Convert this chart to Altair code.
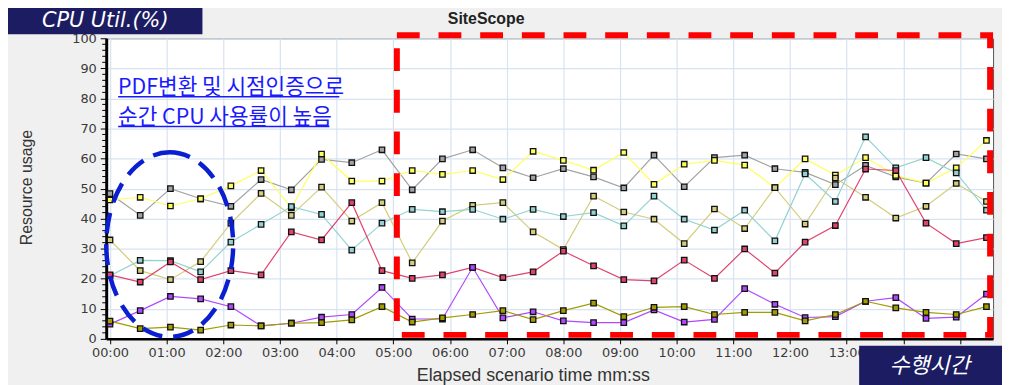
import altair as alt
import pandas as pd

# ---- data (one sample every 32 s) ----
interval_s = 32
series_names = ["Gray", "Yellow", "Khaki", "Cyan", "Crimson", "Purple", "Olive"]
series_colors = ["#a3a3a3", "#ffff5a", "#d3cd7c", "#94d2d2", "#e0446c", "#b048ff", "#a39c00"]

gray = [48.3, 41.1, 50.0, 46.6, 44.1, 53.0, 49.6, 59.7, 58.6, 62.9, 49.6, 59.9, 62.9, 56.9, 53.6,
        56.6, 53.9, 50.2, 61.1, 50.6, 60.3, 61.1, 56.6, 55.4, 51.3, 57.7, 53.9, 51.8, 61.5, 59.9]
yellow = [46.2, 47.1, 44.2, 46.6, 50.9, 56.0, 43.6, 61.5, 52.5, 52.5, 56.0, 54.7, 56.0, 53.0, 62.4,
          59.4, 56.1, 62.0, 51.4, 58.1, 59.4, 57.8, 50.3, 59.9, 54.5, 60.3, 54.4, 51.8, 56.9, 66.0]
khaki = [32.9, 22.7, 19.7, 25.7, 38.5, 48.4, 41.1, 50.5, 39.2, 45.3, 25.3, 39.2, 44.4, 45.3, 35.6,
         29.7, 47.5, 42.2, 39.8, 31.7, 43.2, 36.7, 50.3, 38.2, 53.5, 47.1, 40.2, 44.1, 51.7, 45.7]
cyan = [21.0, 26.1, 26.0, 22.3, 32.2, 38.1, 44.0, 41.4, 29.5, 38.5, 43.1, 42.3, 43.1, 39.8, 43.1,
        40.7, 42.0, 37.6, 47.5, 39.8, 36.2, 42.8, 32.6, 54.9, 45.7, 67.2, 56.9, 60.3, 55.2, 42.8]
crimson = [21.3, 18.9, 25.6, 19.7, 22.7, 21.3, 35.6, 32.9, 45.3, 22.7, 20.1, 21.3, 23.8, 20.4, 22.3,
           29.2, 24.3, 19.7, 19.3, 26.2, 20.1, 29.9, 21.9, 32.2, 37.7, 56.5, 56.0, 38.5, 31.7, 33.7]
purple = [4.9, 9.4, 14.1, 13.3, 10.7, 4.3, 5.2, 7.2, 8.1, 17.1, 6.6, 6.6, 23.8, 7.0, 9.0,
          6.0, 5.4, 5.4, 9.6, 5.6, 6.5, 16.7, 11.5, 7.1, 7.4, 12.5, 13.7, 6.8, 7.2, 14.9]
olive = [5.9, 3.4, 3.9, 2.9, 4.6, 4.3, 5.2, 5.4, 6.3, 10.7, 5.6, 7.0, 8.1, 9.4, 6.4,
         9.4, 11.9, 7.4, 10.5, 10.7, 8.1, 8.8, 8.8, 6.0, 8.1, 12.5, 10.3, 8.8, 8.1, 10.7]

x_tick_values = list(range(0, 901, 60))
y_tick_values = list(range(0, 101, 10))
y_minor_values = [v for v in range(0, 101, 2) if v % 10 != 0]

note_line1 = "PDF변환 및 시점인증으로"
note_line2 = "순간 CPU 사용률이 높음"

rows = []
for name, vals in zip(series_names, [gray, yellow, khaki, cyan, crimson, purple, olive]):
    for i, v in enumerate(vals):
        rows.append({"series": name, "t": i * interval_s, "value": v})
df = pd.DataFrame(rows)

W, H = 894, 303
x_scale = alt.Scale(domain=[-4, 935], nice=False, zero=False)
y_scale = alt.Scale(domain=[0, 100], nice=False)
color = alt.Color("series:N", scale=alt.Scale(domain=series_names, range=series_colors), legend=None)

# labels for 14:00 and 15:00 sit under the "수행시간" box in the reference, so they stay blank
label_expr = ("datum.value > 800 ? '' : pad(floor(datum.value / 60), 2, '0', 'left') + ':' + "
              "pad(datum.value % 60, 2, '0', 'left')")

x_axis = alt.Axis(
    values=x_tick_values, labelExpr=label_expr, title="Elapsed scenario time mm:ss",
    grid=True, gridColor="#d8e3f1", gridWidth=1.2,
    domainColor="#000", domainWidth=2.5, tickColor="#000", tickSize=5, tickWidth=1,
    labelFont="DejaVu Sans", labelFontSize=13, labelColor="#3a3a3a", labelPadding=3,
    labelFlush=False, labelOverlap=False,
    titleFont="Liberation Sans", titleFontSize=18, titleFontWeight="normal", titleColor="#333",
    titleBaseline="alphabetic", titleAlign="center", titleX=430, titleY=42)
y_axis = alt.Axis(
    values=y_tick_values, tickCount=11, title="Resource usage",
    grid=True, gridColor="#d8e3f1", gridWidth=1.2,
    domainColor="#000", domainWidth=3, tickColor="#000", tickSize=6, tickWidth=1,
    labelFont="DejaVu Sans", labelFontSize=13, labelColor="#3a3a3a", labelPadding=4,
    labelFlush=False, labelOverlap=False, labelBound=False,
    titleFont="Liberation Sans", titleFontSize=16, titleFontWeight="normal", titleColor="#333",
    titleAngle=270, titleX=-80, titleY=150, titleAlign="center", titleBaseline="middle")

base = alt.Chart(df)
lines = base.mark_line(strokeWidth=1.2).encode(
    x=alt.X("t:Q", scale=x_scale, axis=x_axis),
    y=alt.Y("value:Q", scale=y_scale, axis=y_axis),
    color=color, detail="series:N")
points = base.mark_point(shape="square", filled=True, size=30, stroke="#111", strokeWidth=1.3,
                         opacity=1).encode(
    x=alt.X("t:Q", scale=x_scale, axis=x_axis),
    y=alt.Y("value:Q", scale=y_scale, axis=y_axis),
    color=color)

minor = alt.Chart(pd.DataFrame({"value": y_minor_values})).mark_rule(color="#000", strokeWidth=1).encode(
    y=alt.Y("value:Q", scale=y_scale, axis=y_axis), x=alt.value(-4), x2=alt.value(0))

one = pd.DataFrame({"k": [0]})


def text_layer(txt, x, y, **kw):
    return alt.Chart(pd.DataFrame({"txt": [txt]})).mark_text(**kw).encode(
        text="txt:N", x=alt.value(x), y=alt.value(y))


def rule_layer(x, x2, y, **kw):
    return alt.Chart(one).mark_rule(**kw).encode(
        x=alt.value(x), x2=alt.value(x2), y=alt.value(y))


title_txt = text_layer("SiteScope", 383, -14, font="Liberation Sans", fontSize=16,
                       fontWeight="bold", color="#222", align="center", baseline="alphabetic")

red_rect = alt.Chart(one).mark_rect(filled=False, stroke="#ff0000", strokeWidth=6,
                                    strokeDash=[23, 19]).encode(
    x=alt.value(293), x2=alt.value(891), y=alt.value(-3), y2=alt.value(299))

ellipse_path = ("M 0 -1 C 0.38 -1 0.688 -0.5523 0.688 0 C 0.688 0.5523 0.38 1 0 1 "
                "C -0.38 1 -0.688 0.5523 -0.688 0 C -0.688 -0.5523 -0.38 -1 0 -1 Z")
ellipse = alt.Chart(one).mark_point(shape=ellipse_path, size=186 * 186, filled=False,
                                    stroke="#0a1ed2", strokeWidth=4.5, strokeDash=[21, 11],
                                    opacity=1).encode(x=alt.value(64), y=alt.value(208))

note_style = dict(font="Noto Sans CJK KR", fontSize=21.5, color="#1a1aff", align="left",
                  baseline="alphabetic")
note1 = text_layer(note_line1, 12, 56, **note_style)
note2 = text_layer(note_line2, 12, 86, **note_style)
ul1 = rule_layer(12, 235, 59, color="#1a1aff", strokeWidth=1.5)
ul2 = rule_layer(12, 225, 89, color="#1a1aff", strokeWidth=1.5)

box_cpu = alt.Chart(one).mark_rect(color="#1c1c62").encode(
    x=alt.value(-102), x2=alt.value(97), y=alt.value(-35), y2=alt.value(-4))
txt_cpu = text_layer("CPU Util.(%)", -1, -11, font="DejaVu Sans", fontSize=21, fontStyle="italic",
                     color="white", align="center", baseline="alphabetic")

box_time = alt.Chart(one).mark_rect(color="#1c1c62").encode(
    x=alt.value(759), x2=alt.value(903), y=alt.value(310), y2=alt.value(350))
txt_time = text_layer("수행시간", 830, 330, font="Noto Sans CJK KR", fontSize=22,
                      fontStyle="italic", color="white", align="center", baseline="middle")

chart = alt.layer(
    lines, points, minor, title_txt, red_rect, ellipse, note1, note2, ul1, ul2,
    box_cpu, txt_cpu, box_time, txt_time
).properties(
    width=W, height=H,
    autosize=alt.AutoSizeParams(type="none"),
    padding={"left": 99, "top": 29, "right": 9, "bottom": 45},
    background="#f0f0f0",
).configure_view(stroke="#555", strokeWidth=1, fill="white")

chart.save("out.html", embed_options={"renderer": "svg", "actions": False})
